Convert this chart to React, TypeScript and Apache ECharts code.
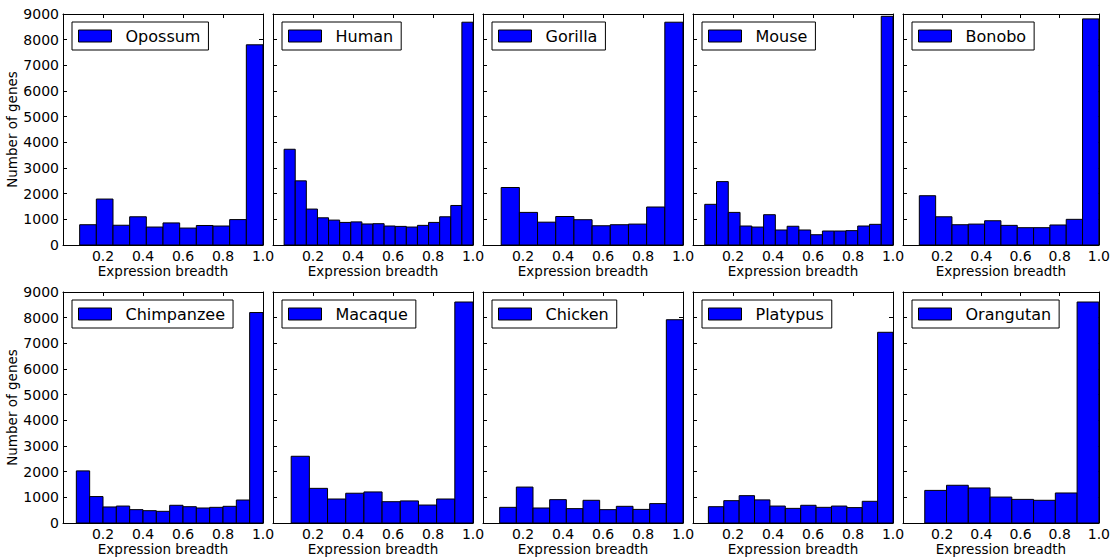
import React, { useEffect, useRef } from "react";
import * as echarts from "echarts";

// Gene counts per expression-breadth bin; bins split [0, 1] evenly, one bin per entry.
const opossum = [0, 790, 1790, 770, 1100, 700, 860, 660, 760, 740, 990, 7800];
const human = [0, 3730, 2500, 1400, 1060, 970, 880, 900, 820, 830, 740, 725, 700, 765, 880, 1100, 1540, 8680];
const gorilla = [0, 2240, 1270, 890, 1110, 985, 750, 790, 815, 1480, 8680];
const mouse = [0, 1585, 2470, 1270, 740, 700, 1180, 585, 730, 585, 400, 545, 545, 560, 740, 805, 8910];
const bonobo = [0, 1920, 1100, 790, 815, 945, 765, 675, 675, 780, 1000, 8810];
const chimpanzee = [0, 2030, 1030, 625, 660, 520, 480, 455, 690, 635, 585, 610, 650, 895, 8200];
const macaque = [0, 2600, 1350, 935, 1160, 1210, 830, 860, 700, 935, 8610];
const chicken = [0, 610, 1400, 585, 910, 560, 885, 520, 650, 530, 755, 7920];
const platypus = [0, 635, 870, 1065, 900, 660, 570, 690, 610, 660, 600, 845, 7430];
const orangutan = [0, 1270, 1470, 1365, 1010, 920, 885, 1170, 8610];

const speciesNames = [
  "Opossum", "Human", "Gorilla", "Mouse", "Bonobo",
  "Chimpanzee", "Macaque", "Chicken", "Platypus", "Orangutan",
];
const speciesCounts = [
  opossum, human, gorilla, mouse, bonobo,
  chimpanzee, macaque, chicken, platypus, orangutan,
];

const yMax = 9000;
const yStep = 1000;

const FONT = "DejaVu Sans";
const BLUE = "#0000ff";
const INK = "#000000";
const TICK_FONT = 14;

// Panel layout (pixels)
const COL_LEFT = [63, 273, 483, 693, 903];
const ROW_TOP = [14, 292];
const PANEL_W = 200;
const PANEL_H = 231;

function binRows(counts: number[]) {
  const n = counts.length;
  return counts.map((c, k) => [k / n, (k + 1) / n, c]);
}

export default function App() {
  const ref = useRef<HTMLDivElement>(null);

  useEffect(() => {
    document.body.style.margin = "0";
    if (!ref.current) return;
    const chart = echarts.init(ref.current, undefined, { renderer: "svg" });

    const grid: any[] = [];
    const xAxis: any[] = [];
    const yAxis: any[] = [];
    const series: any[] = [];
    const legend: any[] = [];

    speciesNames.forEach((name, i) => {
      const col = i % 5;
      const row = Math.floor(i / 5);
      const left = COL_LEFT[col];
      const top = ROW_TOP[row];
      grid.push({ left, top, width: PANEL_W, height: PANEL_H, containLabel: false });

      const tick = { show: true, inside: true, length: 4, lineStyle: { color: INK, width: 1 } };
      const line = { show: true, onZero: false, lineStyle: { color: INK, width: 1 } };

      // bottom x axis with labels
      xAxis.push({
        type: "value", gridIndex: i, position: "bottom",
        min: 0, max: 1, interval: 0.2,
        axisLine: line, axisTick: tick, splitLine: { show: false },
        axisLabel: {
          show: true, margin: 4, fontSize: TICK_FONT, fontFamily: FONT, color: INK,
          formatter: (v: number) => (v === 0 ? "" : v.toFixed(1)),
          showMinLabel: true, showMaxLabel: true,
        },
        name: "Expression breadth", nameLocation: "middle", nameGap: 17,
        nameTextStyle: { fontSize: 13.5, fontFamily: FONT, color: INK },
      });
      // top x axis: ticks only
      xAxis.push({
        type: "value", gridIndex: i, position: "top",
        min: 0, max: 1, interval: 0.2,
        axisLine: line, axisTick: tick, splitLine: { show: false },
        axisLabel: { show: false },
      });
      // left y axis
      yAxis.push({
        type: "value", gridIndex: i, position: "left",
        min: 0, max: yMax, interval: yStep,
        axisLine: line, axisTick: tick, splitLine: { show: false },
        axisLabel: {
          show: col === 0, margin: 4, fontSize: TICK_FONT, fontFamily: FONT, color: INK,
          formatter: (v: number) => String(v),
        },
        name: col === 0 ? "Number of genes" : "",
        nameLocation: "middle", nameRotate: 90, nameGap: 34,
        nameTextStyle: { fontSize: 13.5, fontFamily: FONT, color: INK },
      });
      // right y axis: ticks only
      yAxis.push({
        type: "value", gridIndex: i, position: "right",
        min: 0, max: yMax, interval: yStep,
        axisLine: line, axisTick: tick, splitLine: { show: false },
        axisLabel: { show: false },
      });

      series.push({
        type: "custom",
        name,
        xAxisIndex: i * 2,
        yAxisIndex: i * 2,
        itemStyle: { color: BLUE, borderColor: INK, borderWidth: 1 },
        encode: { x: [0, 1], y: 2 },
        data: binRows(speciesCounts[i]),
        renderItem: (params: any, api: any) => {
          const x0 = api.value(0);
          const x1 = api.value(1);
          const v = api.value(2);
          if (!v) return null;
          const p0 = api.coord([x0, v]);
          const p1 = api.coord([x1, 0]);
          return {
            type: "rect",
            shape: { x: p0[0], y: p0[1], width: p1[0] - p0[0], height: p1[1] - p0[1] },
            style: { fill: BLUE, stroke: INK, lineWidth: 1 },
          };
        },
      });

      legend.push({
        data: [{ name, icon: "rect", itemStyle: { color: BLUE, borderColor: INK, borderWidth: 1 } }],
        left: left + 9,
        top: top + 8,
        orient: "horizontal",
        selectedMode: false,
        backgroundColor: "#ffffff",
        borderColor: INK,
        borderWidth: 1,
        borderRadius: 0,
        padding: [6, 8, 6, 6],
        itemWidth: 33,
        itemHeight: 12,
        textStyle: { fontSize: 16, fontFamily: FONT, color: INK, padding: [0, 0, 0, 9] },
      });
    });

    chart.setOption({
      animation: false,
      backgroundColor: "#ffffff",
      textStyle: { fontFamily: FONT },
      grid,
      xAxis,
      yAxis,
      legend,
      series,
    });

    return () => chart.dispose();
  }, []);

  return <div ref={ref} style={{ width: 1113, height: 560 }} />;
}
